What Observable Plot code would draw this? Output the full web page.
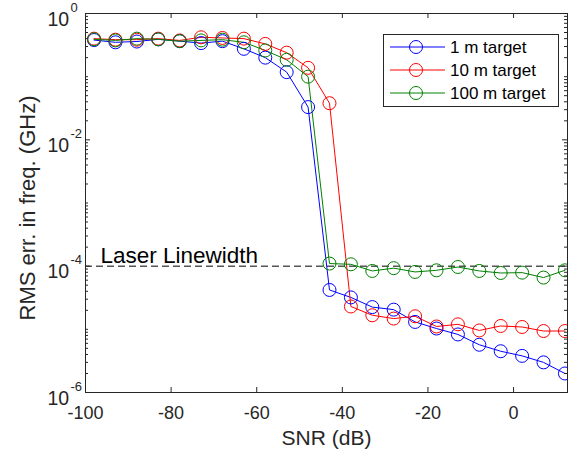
<!DOCTYPE html>
<html><head><meta charset="utf-8">
<script src="https://cdn.jsdelivr.net/npm/d3@7"></script>
<script src="https://cdn.jsdelivr.net/npm/@observablehq/plot@0.6"></script>
<style>body{margin:0;background:#fff;} #chart{width:568px;height:451px;}</style>
</head><body><div id="chart"></div>
<script>
const snr = [-98,-93,-88,-83,-78,-73,-68,-63,-58,-53,-48,-43,-38,-33,-28,-23,-18,-13,-8,-3,2,7,12];
const seriesNames = ["1 m target","10 m target","100 m target"];
const seriesColors = ["#0000ff","#ff0000","#008000"];
const err1m = [0.38,0.35,0.36,0.39,0.365,0.34,0.365,0.276,0.20,0.118,0.033,4.2e-5,3.2e-5,2.25e-5,2.05e-5,1.31e-5,1.03e-5,8.3e-6,5.7e-6,4.5e-6,3.8e-6,3.0e-6,2.0e-6];
const err10m = [0.40,0.385,0.385,0.40,0.375,0.42,0.41,0.40,0.33,0.24,0.138,0.038,2.3e-5,1.67e-5,1.48e-5,1.61e-5,1.11e-5,1.20e-5,9.6e-6,1.13e-5,1.09e-5,9.4e-6,9.4e-6];
const err100m = [0.39,0.375,0.40,0.39,0.365,0.375,0.385,0.35,0.26,0.185,0.10,1.1e-4,1.07e-4,8.4e-5,9.3e-5,8.1e-5,8.6e-5,9.7e-5,8.4e-5,7.8e-5,7.9e-5,6.6e-5,8.6e-5];
const xTicks = [-100,-80,-60,-40,-20,0];
const yMajor = [1,1e-2,1e-4,1e-6];
const laserLinewidth = 1e-4;
const laserLabel = "Laser Linewidth";
const xLabel = "SNR (dB)";
const yLabel = "RMS err. in freq. (GHz)";

const allSeries = [err1m, err10m, err100m];
const data = [];
allSeries.forEach((arr, i) => arr.forEach((v, j) => data.push({x: snr[j], y: v, s: seriesNames[i]})));

const yMinor = [];
for (let e = -6; e <= 0; e++) for (let k = 1; k <= 9; k++) {
  const v = k * Math.pow(10, e);
  if (v <= 1.0000001 && !yMajor.some(m => Math.abs(m - v) / v < 1e-9)) yMinor.push(v);
}

const W = 568, H = 451, mL = 85, mR = 1, mT = 13, mB = 59;
const iW = W - mL - mR, iH = H - mT - mB;
const ax = "#262626";
const font = "Liberation Sans, Arial, Helvetica, sans-serif";

const plot = Plot.plot({
  width: W, height: H,
  marginLeft: mL, marginRight: mR, marginTop: mT, marginBottom: mB,
  style: {fontFamily: font, fontSize: "18px", color: ax, background: "#fff"},
  x: {domain: [-100, 12.6], axis: null},
  y: {type: "log", domain: [1e-6, 1], axis: null},
  color: {domain: seriesNames, range: seriesColors},
  marks: [
    Plot.ruleY([laserLinewidth], {stroke: "#000", strokeWidth: 1, strokeDasharray: "7,4"}),
    Plot.text([laserLabel], {x: -96.5, y: laserLinewidth, text: d => d, textAnchor: "start", lineAnchor: "bottom", dy: -3, fontSize: 22.5, fill: "#000"}),
    Plot.line(data, {x: "x", y: "y", z: "s", stroke: "s", strokeWidth: 1}),
    Plot.dot(data, {x: "x", y: "y", stroke: "s", r: 6.5, fill: "none", strokeWidth: 1}),
    Plot.tickX(xTicks, {x: d => d, stroke: ax, insetTop: iH - 5}),
    Plot.tickX(xTicks, {x: d => d, stroke: ax, insetBottom: iH - 5}),
    Plot.tickY(yMajor, {y: d => d, stroke: ax, insetRight: iW - 5}),
    Plot.tickY(yMajor, {y: d => d, stroke: ax, insetLeft: iW - 5}),
    Plot.tickY(yMinor, {y: d => d, stroke: ax, insetRight: iW - 3}),
    Plot.tickY(yMinor, {y: d => d, stroke: ax, insetLeft: iW - 3}),
    Plot.frame({stroke: ax, strokeWidth: 1}),
    Plot.text(xTicks, {x: d => d, text: d => String(d), frameAnchor: "bottom", textAnchor: "middle", lineAnchor: "middle", dy: 21, fill: ax, fontSize: 18}),
    Plot.text(yMajor, {y: d => d, text: () => "10", frameAnchor: "left", textAnchor: "start", lineAnchor: "middle", dx: -38, dy: 6, fill: ax, fontSize: 19.5}),
    Plot.text(yMajor, {y: d => d, text: d => String(Math.round(Math.log10(d))), frameAnchor: "left", textAnchor: "start", lineAnchor: "middle", dx: -15, dy: -6, fill: ax, fontSize: 13}),
    Plot.text([xLabel], {text: d => d, frameAnchor: "bottom", textAnchor: "middle", lineAnchor: "middle", dy: 46, fill: ax, fontSize: 21}),
    Plot.text([yLabel], {text: d => d, frameAnchor: "left", textAnchor: "middle", lineAnchor: "middle", rotate: -90, dx: -58, dy: 5, fill: ax, fontSize: 22})
  ]
});
document.getElementById("chart").appendChild(plot);

const svg = d3.select(plot);
const lg = svg.append("g").attr("transform", "translate(383,34)");
lg.append("rect").attr("x", 0.5).attr("y", 0.5).attr("width", 175).attr("height", 72)
  .attr("fill", "#fff").attr("stroke", ax).attr("stroke-width", 1);
seriesNames.forEach((name, i) => {
  const yy = 13 + i * 23;
  lg.append("line").attr("x1", 7).attr("x2", 62).attr("y1", yy).attr("y2", yy).attr("stroke", seriesColors[i]);
  lg.append("circle").attr("cx", 33).attr("cy", yy).attr("r", 6.5).attr("fill", "none").attr("stroke", seriesColors[i]);
  lg.append("text").attr("x", 67).attr("y", yy).attr("dy", "0.35em").attr("font-size", 17)
    .attr("text-anchor", "start").attr("font-family", font).attr("fill", "#000").text(name);
});
</script></body></html>
